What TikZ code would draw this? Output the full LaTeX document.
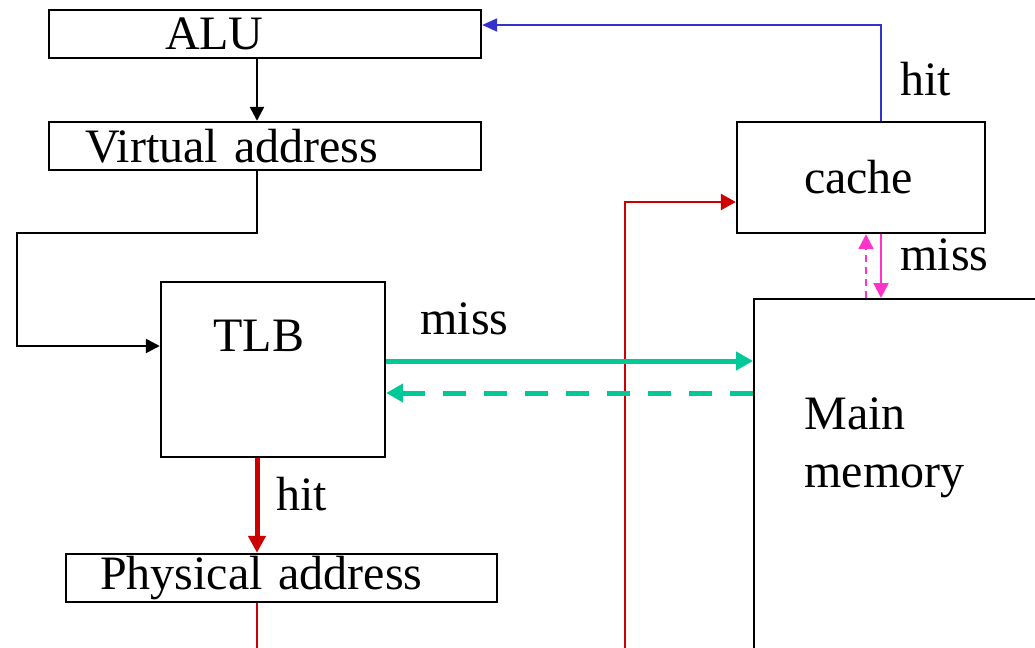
\documentclass[tikz,border=0pt]{standalone}
\usepackage{fontspec}
\setmainfont{Liberation Serif}
\usetikzlibrary{arrows.meta,positioning}
\definecolor{hitred}{RGB}{204,0,0}
\definecolor{hitblue}{RGB}{51,51,204}
\definecolor{missgreen}{RGB}{0,200,150}
\definecolor{misspink}{RGB}{255,51,204}
\tikzset{
    box/.style={draw,line width=1.2pt,rectangle,inner ysep=0pt,align=left,
        font=\fontsize{24}{28.8}\selectfont},
    lbl/.style={inner sep=0pt,anchor=base west,align=left,
        font=\fontsize{24}{28.8}\selectfont},
    blackarrow/.style={line width=1.2pt,-{Triangle[length=7pt,width=7pt]}},
    redthick/.style={hitred,line width=2.5pt,-{Triangle[length=8.5pt,width=8.5pt]}},
    redline/.style={hitred,line width=1.3pt,-{Triangle[length=7.5pt,width=8pt]}},
    blueline/.style={hitblue,line width=1.1pt,-{Triangle[length=7.5pt,width=6.5pt]}},
    greenline/.style={missgreen,line width=2.5pt,-{Triangle[length=8.5pt,width=9pt]}},
    pinkline/.style={misspink,line width=1.1pt,-{Triangle[length=7.5pt,width=7.5pt]}}
}
\begin{document}
\begin{tikzpicture}[x=0.5pt,y=-0.5pt]
    \useasboundingbox (0,0) rectangle (1035,648);
    % boxes
    \node[box,minimum width=216pt,minimum height=24pt,inner xsep=58pt,text width=100pt] (alu) at (265,34) {ALU};
    \node[box,minimum width=216pt,minimum height=24pt,inner xsep=18pt,text width=180pt] (va) at (265,146) {Virtual address};
    \node[box,minimum width=112pt,minimum height=87.5pt] (tlb) at (273,369.5) {};
    \node[box,minimum width=215.5pt,minimum height=24pt,inner xsep=17pt,text width=181.5pt] (pa) at (281.5,578) {Physical address};
    \node[box,minimum width=124pt,minimum height=55.5pt,inner xsep=33.5pt,text width=57pt] (cache) at (861,177.5) {cache};
    \begin{scope}
        \clip (0,0) rectangle (1035,648);
        \node[box,anchor=north west,minimum width=200pt,minimum height=200pt] (mm) at (753,298) {};
    \end{scope}
    \node[lbl] (tlbtxt) at (213,351) {TLB};
    \node[lbl] (mmtxt) at (804,487) {Main\\memory};
    % free ends at the bottom
    \coordinate (pafoot) at (257,648);
    \coordinate (redfoot) at (625,648);
    \coordinate (vbend) at (17,233);
    % connectors
    \draw[blackarrow] ([xshift=-4pt]alu.south) -- ([xshift=-4pt]va.north);
    \draw[blackarrow] ([xshift=-4pt]va.south) |- (vbend) |- ([yshift=11.75pt]tlb.west);
    \draw[redthick] ([xshift=-8pt]tlb.south) -- ([xshift=-8pt]tlb.south |- pa.north);
    \draw[hitred,line width=1.3pt] ([xshift=-12.25pt]pa.south) -- (pafoot);
    \draw[redline] (redfoot) |- ([yshift=-12.25pt]cache.west);
    \draw[blueline] ([xshift=10pt]cache.north) |- ([yshift=4.5pt]alu.east);
    \draw[greenline] ([yshift=4.25pt]tlb.east) -- ([yshift=4.25pt]tlb.east -| mm.west);
    \draw[greenline,dash pattern=on 11.5pt off 9pt] ([yshift=-11.75pt]tlb.east -| mm.west) -- ([yshift=-11.75pt]tlb.east);
    \draw[pinkline] ([xshift=10pt]cache.south) -- ([xshift=10pt]cache.south |- mm.north);
    \draw[pinkline,dash pattern=on 3.5pt off 2.5pt] ([xshift=2.5pt]cache.south |- mm.north) -- ([xshift=2.5pt]cache.south);
    % labels
    \node[lbl] (misstlb) at (420,334) {miss};
    \node[lbl] (hittlb) at (276,510) {hit};
    \node[lbl] (hitcache) at (900,95) {hit};
    \node[lbl] (misscache) at (900,270) {miss};
\end{tikzpicture}
\end{document}
